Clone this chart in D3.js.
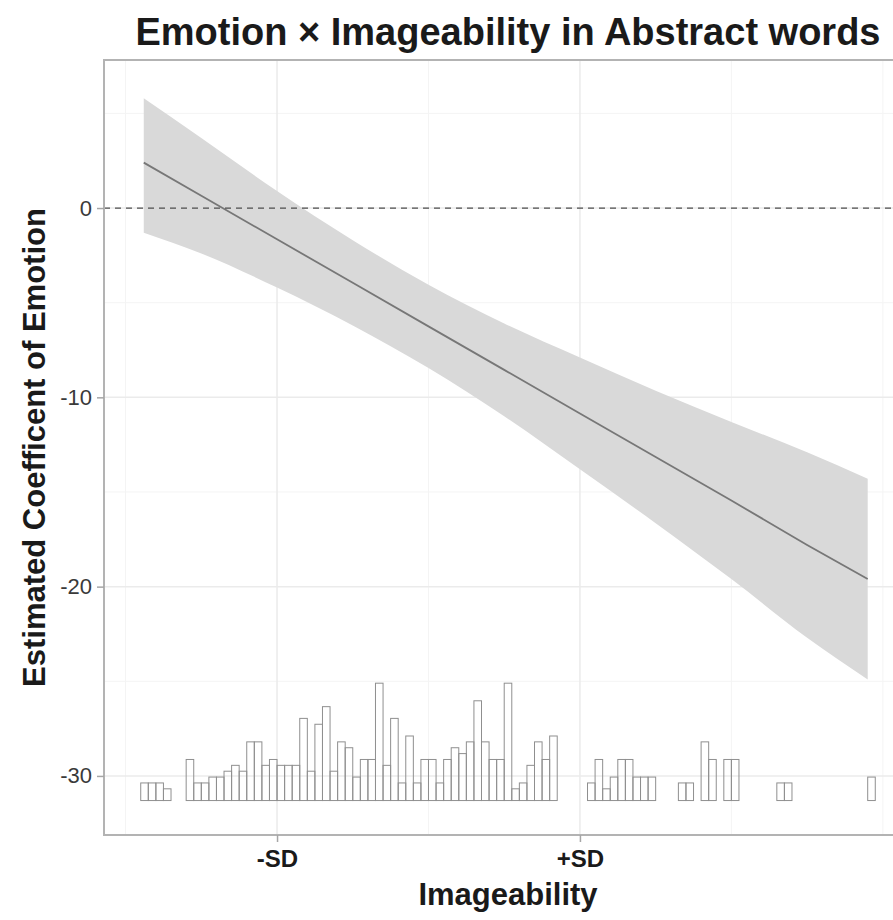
<!DOCTYPE html>
<html lang="en">
<head>
  <meta charset="UTF-8">
  <title>Emotion x Imageability in Abstract words</title>
  <script src="https://d3js.org/d3.v7.min.js"></script>
  <style>
    body { margin: 0; background: #fff; }
    text { font-family: "Liberation Sans", Arial, sans-serif; }
  </style>
</head>
<body>
  <svg id="chart" width="893" height="920"></svg>
  <script>
    // Imageability in SD units (-SD = -1, +SD = 1)
    const fitX     = [-1.88, -1.5, -1, -0.5, 0, 0.5, 1, 1.5, 2, 2.5, 2.9];
    const fitY     = [2.4, 0.65, -1.65, -3.95, -6.25, -8.55, -10.85, -13.15, -15.45, -17.8, -19.6];
    const fitUpper = [5.8, 3.7, 0.9, -1.7, -4.05, -6.1, -7.9, -9.65, -11.3, -12.9, -14.3];
    const fitLower = [-1.3, -2.4, -4.2, -6.2, -8.45, -11.0, -13.8, -16.65, -19.6, -22.7, -24.9];

    // rug histogram of imageability (binwidth 0.05 SD)
    const binStart = -1.9;
    const binWidth = 0.05;
    const binCounts = [
      3, 3, 3, 2, 0, 0, 7, 3, 3, 4, 4, 5, 6, 5, 10, 10, 6, 7, 6, 6,
      6, 14, 5, 13, 16, 5, 10, 9, 4, 7, 7, 20, 6, 14, 3, 11, 3, 7, 7, 3,
      7, 9, 8, 10, 17, 10, 7, 7, 20, 2, 3, 6, 10, 7, 11, 0, 0, 0, 0, 3,
      7, 2, 4, 7, 7, 4, 4, 4, 0, 0, 0, 3, 3, 0, 10, 7, 0, 7, 7, 0,
      0, 0, 0, 0, 3, 3, 0, 0, 0, 0, 0, 0, 0, 0, 0, 0, 4
    ];
    const histBase = -31.3;   // where the histogram sits on the y axis
    const histUnit = 0.31;    // y units per count

    const xTickVals = [-1, 1];
    const xTickLabels = ["-SD", "+SD"];
    const yTickVals = [0, -10, -20, -30];
    const xMinor = [-2, 0, 2, 3];
    const yMinor = [5, -5, -15, -25];

    const title = "Emotion \u00d7 Imageability in Abstract words";
    const xTitle = "Imageability";
    const yTitle = "Estimated Coefficent of Emotion";

    const panel = { left: 104, top: 60, right: 912, bottom: 835 };

    const svg = d3.select("#chart");

    const x = d3.scaleLinear().domain([-2.1425, 3.1925]).range([panel.left, panel.right]);
    const y = d3.scaleLinear().domain([-33.12, 7.82]).range([panel.bottom, panel.top]);

    const g = svg.append("g");

    // grid
    g.selectAll(".xminor").data(xMinor).join("line")
      .attr("x1", d => x(d)).attr("x2", d => x(d))
      .attr("y1", panel.top).attr("y2", panel.bottom)
      .attr("stroke", "#f4f4f4").attr("stroke-width", 1);
    g.selectAll(".yminor").data(yMinor).join("line")
      .attr("y1", d => y(d)).attr("y2", d => y(d))
      .attr("x1", panel.left).attr("x2", panel.right)
      .attr("stroke", "#f4f4f4").attr("stroke-width", 1);
    g.selectAll(".xmajor").data(xTickVals).join("line")
      .attr("x1", d => x(d)).attr("x2", d => x(d))
      .attr("y1", panel.top).attr("y2", panel.bottom)
      .attr("stroke", "#ebebeb").attr("stroke-width", 1.5);
    g.selectAll(".ymajor").data(yTickVals).join("line")
      .attr("y1", d => y(d)).attr("y2", d => y(d))
      .attr("x1", panel.left).attr("x2", panel.right)
      .attr("stroke", "#ebebeb").attr("stroke-width", 1.5);

    // confidence ribbon
    const band = fitX.map((v, i) => ({ x: v, lo: fitLower[i], hi: fitUpper[i], fit: fitY[i] }));
    g.append("path")
      .datum(band)
      .attr("fill", "#d9d9d9")
      .attr("d", d3.area().curve(d3.curveMonotoneX).x(d => x(d.x)).y0(d => y(d.lo)).y1(d => y(d.hi)));

    // fitted line
    g.append("path")
      .datum(band)
      .attr("fill", "none")
      .attr("stroke", "#777777")
      .attr("stroke-width", 1.8)
      .attr("d", d3.line().x(d => x(d.x)).y(d => y(d.fit)));

    // zero reference
    g.append("line")
      .attr("x1", panel.left).attr("x2", panel.right)
      .attr("y1", y(0)).attr("y2", y(0))
      .attr("stroke", "#4d4d4d").attr("stroke-width", 1.3)
      .attr("stroke-dasharray", "6,5");

    // histogram
    const bins = binCounts.map((c, i) => ({ x0: binStart + i * binWidth, x1: binStart + (i + 1) * binWidth, n: c }));
    g.selectAll(".bar").data(bins).join("rect")
      .attr("x", d => x(d.x0))
      .attr("width", d => x(d.x1) - x(d.x0))
      .attr("y", d => y(histBase + d.n * histUnit))
      .attr("height", d => y(histBase) - y(histBase + d.n * histUnit))
      .attr("fill", "none")
      .attr("stroke", "#8f8f8f")
      .attr("stroke-width", 1);

    // panel border
    g.append("rect")
      .attr("x", panel.left).attr("y", panel.top)
      .attr("width", panel.right - panel.left).attr("height", panel.bottom - panel.top)
      .attr("fill", "none").attr("stroke", "#b3b3b3").attr("stroke-width", 2);

    // axes
    const xAxis = d3.axisBottom(x).tickValues(xTickVals)
      .tickFormat((d, i) => xTickLabels[i]).tickSize(7).tickPadding(8);
    const xg = svg.append("g").attr("transform", `translate(0,${panel.bottom})`).call(xAxis);
    xg.select(".domain").remove();
    xg.selectAll("line").attr("stroke", "#a6a6a6").attr("stroke-width", 1.5);
    xg.selectAll("text")
      .attr("font-family", "Liberation Sans, Arial, sans-serif")
      .attr("font-size", 24).attr("font-weight", "bold").attr("fill", "#1a1a1a");

    const yAxis = d3.axisLeft(y).tickValues(yTickVals)
      .tickFormat(d => String(d)).tickSize(7).tickPadding(5);
    const yg = svg.append("g").attr("transform", `translate(${panel.left},0)`).call(yAxis);
    yg.select(".domain").remove();
    yg.selectAll("line").attr("stroke", "#a6a6a6").attr("stroke-width", 1.5);
    yg.selectAll("text")
      .attr("font-family", "Liberation Sans, Arial, sans-serif")
      .attr("font-size", 22).attr("fill", "#3a3a3a");

    // titles
    const midX = (panel.left + panel.right) / 2;
    svg.append("text")
      .attr("x", midX).attr("y", 45)
      .attr("text-anchor", "middle")
      .attr("font-size", 38).attr("font-weight", "bold").attr("fill", "#1a1a1a")
      .text(title);

    svg.append("text")
      .attr("x", midX).attr("y", 905)
      .attr("text-anchor", "middle")
      .attr("font-size", 31).attr("font-weight", "bold").attr("fill", "#1a1a1a")
      .text(xTitle);

    svg.append("text")
      .attr("transform", `translate(45,${(panel.top + panel.bottom) / 2}) rotate(-90)`)
      .attr("text-anchor", "middle")
      .attr("font-size", 31).attr("font-weight", "bold").attr("fill", "#1a1a1a")
      .text(yTitle);
  </script>
</body>
</html>
